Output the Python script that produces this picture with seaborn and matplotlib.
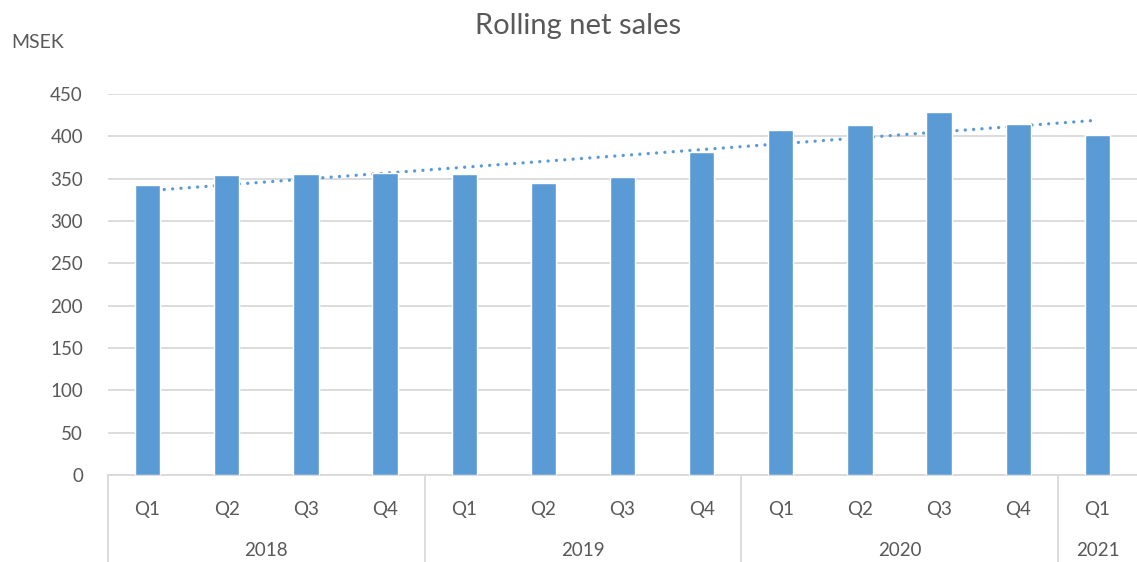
import numpy as np
import pandas as pd
import matplotlib
matplotlib.use("Agg")
import matplotlib.pyplot as plt
import matplotlib.transforms as mtransforms
import seaborn as sns

quarters = ["Q1", "Q2", "Q3", "Q4", "Q1", "Q2", "Q3", "Q4", "Q1", "Q2", "Q3", "Q4", "Q1"]
years = ["2018", "2018", "2018", "2018", "2019", "2019", "2019", "2019",
         "2020", "2020", "2020", "2020", "2021"]
net_sales = [342, 354, 355, 357, 355, 345, 352, 381, 407, 413, 429, 414, 402]
year_labels = ["2018", "2019", "2020", "2021"]
yticks = [0, 50, 100, 150, 200, 250, 300, 350, 400, 450]

sns.set_theme(style="white")
plt.rcParams["font.family"] = ["Lato", "DejaVu Sans"]

text_color = "#595959"
bar_color = "#5B9BD5"
grid_color = "#D9D9D9"

df = pd.DataFrame({"pos": [f"{y}-{q}-{i}" for i, (y, q) in enumerate(zip(years, quarters))],
                   "sales": net_sales})

fig = plt.figure(figsize=(11.37, 5.62), dpi=100)
ax = fig.add_axes([108 / 1137, 87 / 562, 1029 / 1137, 381 / 562])

sns.barplot(data=df, x="pos", y="sales", color=bar_color, width=0.32,
            saturation=1, ax=ax, zorder=3)

# linear trendline (behind bars)
x = np.arange(len(net_sales))
coef = np.polyfit(x, net_sales, 1)
ax.plot(x, np.polyval(coef, x), linestyle=(0, (0.01, 2.5)), color=bar_color,
        lw=2.4, zorder=2, dash_capstyle="round", solid_capstyle="round")

ax.set_xlim(-0.5, len(net_sales) - 0.5)
ax.set_ylim(0, 450)
ax.set_yticks(yticks)
ax.set_yticklabels([str(t) for t in yticks], color=text_color, fontsize=13.5)
ax.yaxis.grid(True, color=grid_color, lw=1.3)
ax.set_axisbelow(True)
for side in ["left", "right", "top"]:
    ax.spines[side].set_visible(False)
ax.spines["bottom"].set_color(grid_color)
ax.spines["bottom"].set_linewidth(1.3)
ax.tick_params(axis="y", length=0, pad=18)
ax.tick_params(axis="x", length=0, pad=19)
ax.set_xticks(x)
ax.set_xticklabels(quarters, color=text_color, fontsize=13.5)
ax.set_xlabel("")
ax.set_ylabel("")

# group separators and year labels
trans = mtransforms.blended_transform_factory(ax.transData, ax.transAxes)
bounds = [-0.5]
for i in range(1, len(years)):
    if years[i] != years[i - 1]:
        bounds.append(i - 0.5)
bounds.append(len(years) - 0.5)
for b in bounds[:-1]:
    ax.plot([b, b], [0, -0.235], color=grid_color, lw=1.3, transform=trans,
            clip_on=False)
for yl, a, b in zip(year_labels, bounds[:-1], bounds[1:]):
    ax.text((a + b) / 2, -0.197, yl, transform=trans, ha="center", va="center",
            color=text_color, fontsize=13.5)

fig.text(578 / 1137, 1 - 26 / 562, "Rolling net sales", ha="center", va="center",
         color=text_color, fontsize=21)
fig.text(11 / 1137, 1 - 42 / 562, "MSEK", ha="left", va="center",
         color=text_color, fontsize=14)

fig.savefig("out.png", dpi=100, facecolor="white")
